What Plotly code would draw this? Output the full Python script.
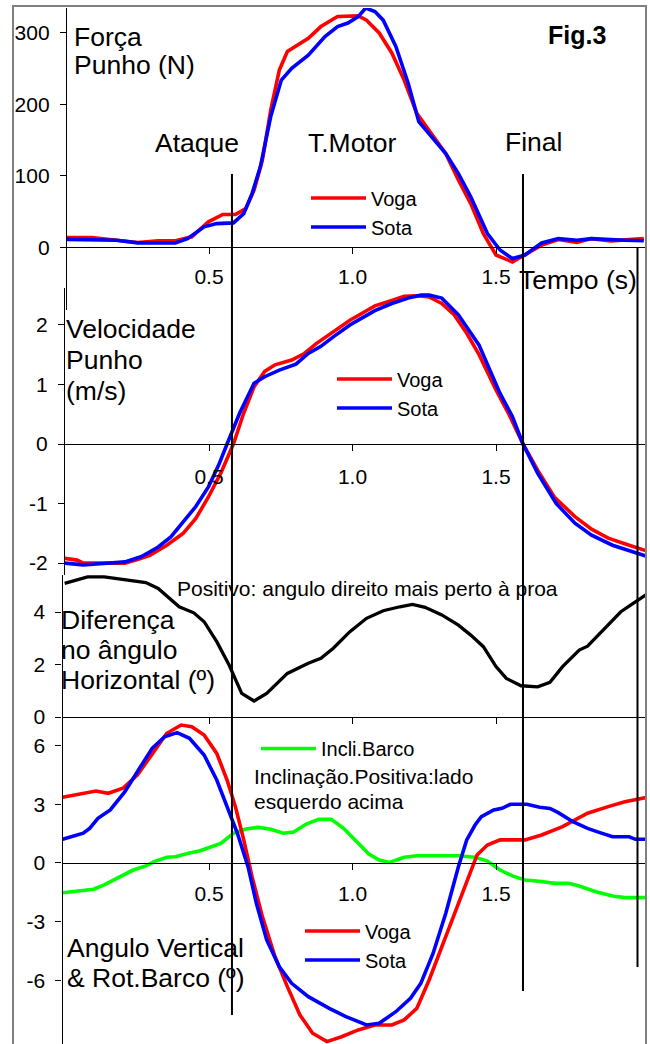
import plotly.graph_objects as go

# ---------------- data ----------------
force_t_voga = [0.004, 0.091, 0.178, 0.251, 0.323, 0.383, 0.44, 0.498, 0.548, 0.592, 0.628, 0.657, 0.686, 0.715,
                0.745, 0.773, 0.846, 0.89, 0.948, 1.02, 1.049, 1.093, 1.137, 1.18, 1.224, 1.281, 1.325, 1.369,
                1.412, 1.456, 1.5, 1.557, 1.601, 1.659, 1.717, 1.782, 1.833, 1.9, 2.015]
force_voga = [13.6, 13.6, 9.8, 6.5, 8.9, 8.9, 14.5, 35.5, 45.8, 45.8, 54, 80, 122, 192,
              248, 274, 292.6, 309, 323, 324, 318, 300, 272, 234, 187.5, 154.7, 131, 94,
              61, 19, -11, -20.6, -11, 2.8, 10.8, 6.5, 12, 8.9, 12]

force_t_sota = [0.004, 0.178, 0.251, 0.383, 0.425, 0.483, 0.527, 0.585, 0.621, 0.65, 0.679, 0.715, 0.752, 0.788,
                0.846, 0.904, 0.948, 0.984, 1.02, 1.046, 1.078, 1.107, 1.151, 1.194, 1.231, 1.281, 1.325, 1.369,
                1.412, 1.47, 1.514, 1.557, 1.601, 1.659, 1.717, 1.782, 1.833, 1.95, 2.015]
force_sota = [11, 9.8, 6, 6, 12, 28.5, 33, 34, 47, 75, 112.6, 183, 234, 250.6,
              269, 295, 309, 314, 323, 335, 330, 318, 281, 229.6, 175.7, 152, 131, 103,
              70.5, 19, -4, -16, -11, 6, 12, 9.8, 12, 9.8, 8.9]

vel_t_voga = [-0.003, 0.04, 0.062, 0.207, 0.251, 0.294, 0.353, 0.41, 0.454, 0.498, 0.541, 0.585, 0.621, 0.657,
              0.694, 0.73, 0.788, 0.832, 0.875, 0.933, 0.991, 1.035, 1.078, 1.137, 1.18, 1.224, 1.267, 1.311,
              1.354, 1.398, 1.441, 1.5, 1.543, 1.594, 1.645, 1.703, 1.775, 1.833, 1.891, 1.964, 2.022]
vel_voga = [-1.92, -1.95, -2.0, -2.0, -1.94, -1.87, -1.70, -1.50, -1.25, -0.89, -0.49, 0, 0.52, 0.96,
            1.22, 1.33, 1.41, 1.52, 1.69, 1.89, 2.08, 2.20, 2.32, 2.41, 2.48, 2.49, 2.47, 2.36,
            2.17, 1.86, 1.50, 0.91, 0.52, 0, -0.44, -0.89, -1.22, -1.43, -1.58, -1.70, -1.79]

vel_t_sota = [-0.003, 0.062, 0.12, 0.207, 0.265, 0.323, 0.367, 0.41, 0.454, 0.498, 0.534, 0.563, 0.607, 0.657,
              0.694, 0.745, 0.803, 0.846, 0.89, 0.933, 0.991, 1.02, 1.078, 1.137, 1.194, 1.238, 1.267, 1.311,
              1.369, 1.441, 1.514, 1.557, 1.594, 1.645, 1.71, 1.775, 1.833, 1.906, 1.964, 2.022]
vel_sota = [-2.0, -2.03, -2.01, -1.98, -1.89, -1.73, -1.56, -1.31, -1.05, -0.72, -0.35, 0, 0.52, 1.02,
            1.13, 1.24, 1.34, 1.52, 1.64, 1.80, 2.0, 2.08, 2.24, 2.36, 2.45, 2.50, 2.50, 2.45,
            2.17, 1.66, 0.85, 0.46, 0, -0.49, -1.0, -1.33, -1.53, -1.70, -1.79, -1.88]

diff_t = [-0.003, 0.077, 0.135, 0.207, 0.28, 0.323, 0.396, 0.447, 0.483, 0.527, 0.57, 0.614, 0.657, 0.701,
          0.773, 0.846, 0.89, 0.933, 0.991, 1.049, 1.107, 1.165, 1.209, 1.253, 1.311, 1.369, 1.412, 1.456,
          1.5, 1.536, 1.587, 1.645, 1.688, 1.732, 1.79, 1.819, 1.877, 1.935, 1.978, 2.022]
diff_ang = [5.09, 5.34, 5.34, 5.22, 5.12, 4.9, 4.2, 3.97, 3.63, 2.87, 1.98, 0.90, 0.61, 0.9,
            1.66, 2.05, 2.24, 2.62, 3.25, 3.76, 4.05, 4.2, 4.29, 4.18, 3.89, 3.5, 3.12, 2.68,
            1.92, 1.47, 1.19, 1.15, 1.32, 1.92, 2.55, 2.70, 3.34, 4.01, 4.33, 4.65]

vert_t_voga = [-0.01, 0.062, 0.106, 0.149, 0.2, 0.251, 0.302, 0.353, 0.403, 0.44, 0.483, 0.527, 0.563, 0.592,
               0.621, 0.65, 0.686, 0.73, 0.773, 0.817, 0.861, 0.911, 0.962, 1.02, 1.078, 1.137, 1.18, 1.224,
               1.267, 1.311, 1.354, 1.398, 1.434, 1.47, 1.514, 1.601, 1.659, 1.732, 1.819, 1.891, 1.949, 2.03]
vert_voga = [3.36, 3.53, 3.68, 3.56, 3.82, 4.5, 5.6, 6.63, 7.05, 6.96, 6.54, 5.6, 4.24, 2.88,
             1.18, -0.7, -2.74, -4.79, -6.32, -7.77, -8.7, -9.13, -8.88, -8.53, -8.28, -8.28, -8.02, -7.43,
             -5.98, -4.28, -2.57, -0.87, 0.41, 0.92, 1.18, 1.18, 1.43, 1.86, 2.54, 2.88, 3.13, 3.36]

vert_t_sota = [-0.01, 0.062, 0.084, 0.113, 0.156, 0.207, 0.258, 0.302, 0.345, 0.389, 0.432, 0.483, 0.527, 0.563,
               0.599, 0.636, 0.665, 0.701, 0.745, 0.788, 0.846, 0.919, 0.977, 1.049, 1.093, 1.151, 1.202, 1.238,
               1.281, 1.325, 1.369, 1.398, 1.427, 1.449, 1.492, 1.521, 1.55, 1.608, 1.652, 1.688, 1.717, 1.768,
               1.819, 1.862, 1.906, 1.964, 1.986, 2.03]
vert_sota = [1.21, 1.52, 1.77, 2.28, 2.71, 3.64, 4.84, 5.86, 6.45, 6.66, 6.37, 5.52, 4.24, 2.88,
             1.52, -0.19, -2.06, -3.93, -5.3, -6.15, -6.83, -7.43, -7.85, -8.28, -8.19, -7.6, -6.91, -6.15,
             -4.61, -2.57, -0.19, 1.18, 1.94, 2.37, 2.71, 2.79, 3.0, 3.0, 2.85, 2.79, 2.57, 2.11,
             1.77, 1.55, 1.34, 1.34, 1.21, 1.21]

incl_t = [-0.01, 0.062, 0.098, 0.135, 0.178, 0.236, 0.28, 0.309, 0.353, 0.383, 0.425, 0.469, 0.541, 0.585,
          0.628, 0.672, 0.715, 0.759, 0.795, 0.839, 0.882, 0.926, 0.969, 1.013, 1.057, 1.093, 1.129, 1.18,
          1.224, 1.369, 1.427, 1.47, 1.514, 1.557, 1.601, 1.659, 1.703, 1.753, 1.79, 1.848, 1.906, 1.949, 2.03]
incl_barco = [-1.52, -1.38, -1.34, -1.12, -0.78, -0.36, -0.15, 0.07, 0.29, 0.32, 0.49, 0.63, 1.0, 1.52,
              1.74, 1.82, 1.72, 1.52, 1.58, 1.99, 2.23, 2.23, 1.77, 1.09, 0.46, 0.15, 0.03, 0.29,
              0.37, 0.37, 0.29, 0.1, -0.36, -0.66, -0.87, -0.95, -1.04, -1.04, -1.18, -1.47, -1.69, -1.77, -1.77]

x_ticks = [0.5, 1.0, 1.5]
x_ticktext = ["0.5", "1.0", "1.5"]
force_ticks = [0, 100, 200, 300]
vel_ticks = [-2, -1, 0, 1, 2]
diff_ticks = [0, 2, 4]
vert_ticks = [-6, -3, 0, 3, 6]

event_names = ["Ataque", "T.Motor", "Final"]
event_t = [0.58, 1.594, 1.993]   # vertical marker lines (attack, finish, end of cycle)

# ---------------- layout helpers ----------------
W, H = 650, 1044
FONT = "Arial, 'Liberation Sans', sans-serif"
T0_PX, PX_PER_S = 65.5, 287.0
RIGHT_PX = 647
BIG, SMALL, TICK, LEGF = 26.5, 21, 21, 20


def pyf(p):
    return 1 - p / H


def pxf(p):
    return p / W


def t_at(p):
    return (p - T0_PX) / PX_PER_S


# panel: (top px, bottom px, y range, left px, x tick label standoff)
panels = [
    (8, 310, [-88, 335], 67, 4),
    (288, 575, [-2.2, 2.62], 65, 8),
    (575, 717, [0, 5.41], 62.5, 8),
    (717, 1044, [-9.25, 7.46], 62.5, 6),
]
yticks = [force_ticks, vel_ticks, diff_ticks, vert_ticks]

fig = go.Figure()

RED, BLUE, GREEN = "#FF0000", "#0000FF", "#00FF00"
LW = 3.6

fig.add_trace(go.Scatter(x=force_t_voga, y=force_voga, name="Voga", mode="lines",
                         line=dict(color=RED, width=LW), xaxis="x", yaxis="y", legend="legend"))
fig.add_trace(go.Scatter(x=force_t_sota, y=force_sota, name="Sota", mode="lines",
                         line=dict(color=BLUE, width=LW), xaxis="x", yaxis="y", legend="legend"))
fig.add_trace(go.Scatter(x=vel_t_voga, y=vel_voga, name="Voga", mode="lines",
                         line=dict(color=RED, width=LW), xaxis="x2", yaxis="y2", legend="legend2"))
fig.add_trace(go.Scatter(x=vel_t_sota, y=vel_sota, name="Sota", mode="lines",
                         line=dict(color=BLUE, width=LW), xaxis="x2", yaxis="y2", legend="legend2"))
fig.add_trace(go.Scatter(x=diff_t, y=diff_ang, name="Diferença", mode="lines", showlegend=False,
                         line=dict(color="black", width=3.3), xaxis="x3", yaxis="y3"))
fig.add_trace(go.Scatter(x=incl_t, y=incl_barco, name="Incli.Barco", mode="lines",
                         line=dict(color=GREEN, width=LW), xaxis="x4", yaxis="y4", legend="legend3"))
fig.add_trace(go.Scatter(x=vert_t_voga, y=vert_voga, name="Voga", mode="lines",
                         line=dict(color=RED, width=LW), xaxis="x4", yaxis="y4", legend="legend4"))
fig.add_trace(go.Scatter(x=vert_t_sota, y=vert_sota, name="Sota", mode="lines",
                         line=dict(color=BLUE, width=LW), xaxis="x4", yaxis="y4", legend="legend4"))

layout = dict(template="none", width=W, height=H, margin=dict(l=0, r=0, t=0, b=0, pad=0, autoexpand=False),
              paper_bgcolor="white", plot_bgcolor="rgba(0,0,0,0)",
              font=dict(family=FONT, color="black", size=20))

for i, ((top, bot, rng, left, stand), ytv) in enumerate(zip(panels, yticks), start=1):
    sfx = "" if i == 1 else str(i)
    d0, d1 = pyf(bot), pyf(top)
    zero_pos = d0 + (0 - rng[0]) / (rng[1] - rng[0]) * (d1 - d0)
    layout["xaxis" + sfx] = dict(
        domain=[pxf(left), pxf(RIGHT_PX)], range=[t_at(left), t_at(RIGHT_PX)],
        anchor="free", position=zero_pos, showline=True, linecolor="black", linewidth=1.3,
        ticks="outside", ticklen=6, tickcolor="black", tickwidth=1.2,
        tickvals=x_ticks, ticktext=x_ticktext, showticklabels=(i != 3),
        tickfont=dict(size=TICK, family=FONT, color="black"), ticklabelstandoff=stand,
        showgrid=False, zeroline=False, automargin=False)
    layout["yaxis" + sfx] = dict(
        domain=[d0, d1], range=rng, anchor="x" + ("" if i == 1 else str(i)),
        showline=True, linecolor="black", linewidth=1.3,
        ticks="outside", ticklen=6, tickcolor="black", tickwidth=1.2,
        tickvals=ytv, ticktext=[str(v) for v in ytv],
        tickfont=dict(size=TICK, family=FONT, color="black"), ticklabelstandoff=6,
        showgrid=False, zeroline=False, automargin=False)

leg_common = dict(bgcolor="rgba(0,0,0,0)", borderwidth=0, xanchor="left", yanchor="top",
                  font=dict(size=LEGF, family=FONT, color="black"), itemwidth=55, tracegroupgap=0)
layout["legend"] = dict(x=pxf(306), y=pyf(178.5), **leg_common)
layout["legend2"] = dict(x=pxf(332), y=pyf(359.5), **leg_common)
layout["legend3"] = dict(x=pxf(256), y=pyf(729), **leg_common)
layout["legend4"] = dict(x=pxf(300), y=pyf(911.5), **leg_common)
fig.update_layout(**layout)

# event marker lines across the panels
event_spans = [(174, 1015), (174, 991), (247, 967)]
shapes = []
for t, (ya, yb) in zip(event_t, event_spans):
    shapes.append(dict(type="line", xref="x", yref="paper", x0=t, x1=t, y0=pyf(yb), y1=pyf(ya),
                       line=dict(color="black", width=2)))
# gray frame
shapes.append(dict(type="rect", xref="paper", yref="paper", x0=pxf(13), x1=pxf(646),
                   y0=pyf(1100), y1=pyf(6), line=dict(color="#808080", width=2), layer="above"))
fig.update_layout(shapes=shapes)


def ann(text, x, y, size=BIG, anchor="left", bold=False):
    return dict(text=("<b>%s</b>" % text) if bold else text, x=pxf(x), y=pyf(y), xref="paper", yref="paper",
                xanchor=anchor, yanchor="middle", showarrow=False,
                font=dict(size=size, family=FONT, color="black"))


annotations = [
    ann("Fig.3", 577, 35, 25, "center", bold=True),
    ann("Força", 72, 37), ann("Punho (N)", 72, 65),
    ann(event_names[0], 197, 143, anchor="center"),
    ann(event_names[1], 352, 143, anchor="center"),
    ann(event_names[2], 533, 142, anchor="center"),
    ann("Tempo (s)", 517, 280),
    ann("Velocidade", 64, 329), ann("Punho", 64, 360), ann("(m/s)", 64, 391),
    ann("Positivo: angulo direito mais perto à proa", 175, 588, SMALL),
    ann("Diferença", 59, 620), ann("no ângulo", 59, 650), ann("Horizontal (º)", 59, 680),
    ann("Inclinação.Positiva:lado", 252, 776, SMALL), ann("esquerdo acima", 252, 801, SMALL),
    ann("Angulo Vertical", 65, 948), ann("& Rot.Barco (º)", 65, 978),
]
fig.update_layout(annotations=annotations)

fig.write_html("out.html", config={"displayModeBar": False},
               post_script="document.body.style.margin='0';document.body.style.overflow='hidden';")
